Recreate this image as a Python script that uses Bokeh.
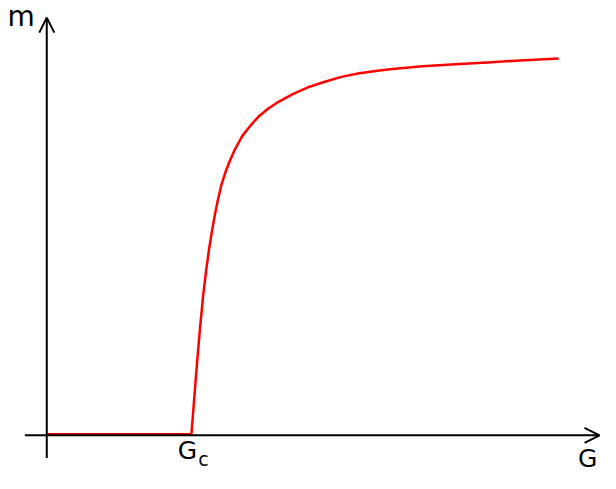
from bokeh.plotting import figure
from bokeh.models import Range1d, Arrow, OpenHead, Label
from bokeh.embed import file_html
from bokeh.resources import INLINE

# Data: order parameter m versus G (G in units of Gc)
G_flat = [0.0034, 1.0]
m_flat = [0.0, 0.0]

G_curve = [1.0000, 1.0202, 1.0404, 1.0606, 1.0808, 1.1010, 1.1212, 1.1414,
           1.1616, 1.1818, 1.2067, 1.2337, 1.2626, 1.3030, 1.3522, 1.4088,
           1.4646, 1.5320, 1.5993, 1.7003, 1.8013, 1.9226, 2.0370, 2.1515,
           2.2727, 2.3737, 2.5960, 2.8249, 3.0471, 3.2694, 3.5387]
m_curve = [0.0, 0.0963, 0.1913, 0.2788, 0.3563, 0.4213, 0.4763, 0.5238,
           0.5663, 0.6038, 0.6438, 0.6755, 0.7045, 0.7380, 0.7713, 0.7980,
           0.8213, 0.8420, 0.8588, 0.8795, 0.8963, 0.9113, 0.9238, 0.9325,
           0.9388, 0.9438, 0.9513, 0.9563, 0.9613, 0.9663, 0.9713]

y_label = "m"
x_label = "G"
crit_label = "G"
crit_sub = "c"

p = figure(width=600, height=473, output_backend="svg", toolbar_location=None,
           x_range=Range1d(-0.31987, 3.82828), y_range=Range1d(-0.10125, 1.12125),
           x_axis_type=None, y_axis_type=None, min_border=0,
           outline_line_color=None, background_fill_color="white",
           border_fill_color="white")
p.grid.visible = False

# axes as arrows
p.add_layout(Arrow(end=OpenHead(size=15, line_width=2, line_color="black"),
                   x_start=0, y_start=-0.06125, x_end=0, y_end=1.077,
                   line_width=2, line_color="black"))
p.add_layout(Arrow(end=OpenHead(size=15, line_width=2, line_color="black"),
                   x_start=-0.1515, y_start=-0.0025, x_end=3.8215, y_end=-0.0025,
                   line_width=2, line_color="black"))

p.line(G_flat, m_flat, line_color="#ff0000", line_width=2.5)
p.line(G_curve, m_curve, line_color="#ff0000", line_width=2.5, line_join="round")

font = "DejaVu Sans"
p.add_layout(Label(x=-0.2707, y=1.0803, text=y_label, text_font=font,
                   text_font_size="28px", text_baseline="alphabetic", text_color="black"))
p.add_layout(Label(x=0.9057, y=-0.0430, text=crit_label, text_font=font,
                   text_font_size="25px", text_baseline="alphabetic", text_color="black"))
p.add_layout(Label(x=1.0471, y=-0.0630, text=crit_sub, text_font=font,
                   text_font_size="19px", text_baseline="alphabetic", text_color="black"))
p.add_layout(Label(x=3.6734, y=-0.0630, text=x_label, text_font=font,
                   text_font_size="25px", text_baseline="alphabetic", text_color="black"))

open("out.html", "w").write(file_html(p, INLINE))
